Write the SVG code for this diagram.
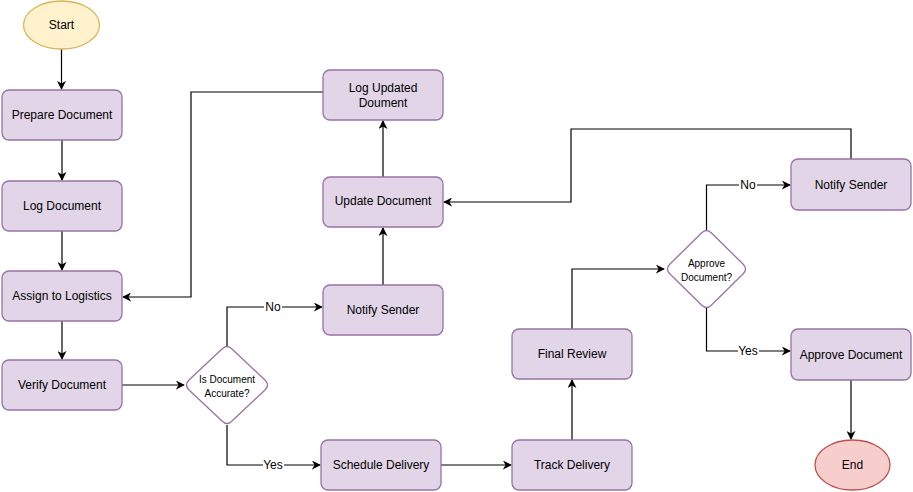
<svg xmlns="http://www.w3.org/2000/svg" width="913" height="492" viewBox="0 0 913 492">
<defs>
<marker id="arr" viewBox="0 0 10 10" refX="9" refY="5" markerWidth="9" markerHeight="9" markerUnits="userSpaceOnUse" orient="auto"><path d="M0,0 L10,5 L0,10 L3,5 Z" fill="#000"/></marker>
<style>
.box{fill:#e1d5e7;stroke:#9673a6;stroke-width:1.3}
.dia{fill:#fff;stroke:#9673a6;stroke-width:1.3}
.t{font-family:"Liberation Sans",Arial,sans-serif;font-size:12px;fill:#000;text-anchor:middle;dominant-baseline:central}
.s{font-size:10px}
.c{fill:none;stroke:#000;stroke-width:1.2;marker-end:url(#arr)}
.lb{fill:#fff}
</style>
</defs>
<rect width="913" height="492" fill="#fff"/>
<g id="connectors">
<path class="c" d="M61.5,49 L61.5,89"/>
<path class="c" d="M62,140 L62,180"/>
<path class="c" d="M62,231 L62,270"/>
<path class="c" d="M62,321 L62,359"/>
<path class="c" d="M122,385 L184,385"/>
<path class="c" d="M227,346 L227,307 L322,307"/>
<path class="c" d="M227,425 L227,465 L320,465"/>
<path class="c" d="M383,285 L383,228"/>
<path class="c" d="M383,177 L383,121"/>
<path class="c" d="M323,92 L191,92 L191,297 L123,297"/>
<path class="c" d="M441,465 L511,465"/>
<path class="c" d="M572,440 L572,380"/>
<path class="c" d="M572,329 L572,269 L664,269"/>
<path class="c" d="M706.5,230 L706.5,185 L790,185"/>
<path class="c" d="M706.5,308 L706.5,351 L790,351"/>
<path class="c" d="M851,159 L851,129 L571,129 L571,202 L444,202"/>
<path class="c" d="M851,380 L851,439"/>
<rect class="lb" x="264" y="300" width="18" height="14"/>
<text class="t" x="273" y="307">No</text>
<rect class="lb" x="263" y="458" width="21" height="14"/>
<text class="t" x="273" y="465">Yes</text>
<rect class="lb" x="739" y="178" width="18" height="14"/>
<text class="t" x="748" y="185">No</text>
<rect class="lb" x="738" y="344" width="21" height="14"/>
<text class="t" x="748" y="351">Yes</text>
</g>
<g id="start"><ellipse cx="61.5" cy="25" rx="38" ry="24" fill="#fff2cc" stroke="#d6b656" stroke-width="1.3"/><text class="t" x="61.5" y="25">Start</text></g>
<g id="prepare"><rect class="box" x="2" y="90" width="120" height="50" rx="7"/><text class="t" x="62" y="115">Prepare Document</text></g>
<g id="log"><rect class="box" x="2" y="181" width="120" height="50" rx="7"/><text class="t" x="62" y="206">Log Document</text></g>
<g id="assign"><rect class="box" x="2" y="271" width="120" height="50" rx="7"/><text class="t" x="62" y="296">Assign to Logistics</text></g>
<g id="verify"><rect class="box" x="2" y="360" width="120" height="50" rx="7"/><text class="t" x="62" y="385">Verify Document</text></g>
<g id="d1"><path class="dia" d="M222,349 Q227,344 232,349 L265,380 Q270,385 265,390 L232,421 Q227,426 222,421 L189,390 Q184,385 189,380 Z"/><text class="t s" x="227" y="379">Is Document</text><text class="t s" x="227" y="393">Accurate?</text></g>
<g id="notify1"><rect class="box" x="323" y="285" width="120" height="50" rx="7"/><text class="t" x="383" y="310">Notify Sender</text></g>
<g id="update"><rect class="box" x="323" y="177" width="120" height="50" rx="7"/><text class="t" x="383" y="201">Update Document</text></g>
<g id="logupd"><rect class="box" x="323" y="70" width="120" height="50" rx="7"/><text class="t" x="383" y="88">Log Updated</text><text class="t" x="383" y="103">Doument</text></g>
<g id="schedule"><rect class="box" x="321" y="440" width="120" height="50" rx="7"/><text class="t" x="381" y="465">Schedule Delivery</text></g>
<g id="track"><rect class="box" x="512" y="440" width="120" height="50" rx="7"/><text class="t" x="572" y="465">Track Delivery</text></g>
<g id="final"><rect class="box" x="512" y="329" width="120" height="50" rx="7"/><text class="t" x="572" y="354">Final Review</text></g>
<g id="d2"><path class="dia" d="M701.5,233 Q706.5,228 711.5,233 L743,264 Q748,269 743,274 L711.5,305 Q706.5,310 701.5,305 L670,274 Q665,269 670,264 Z"/><text class="t s" x="706.5" y="263">Approve</text><text class="t s" x="706.5" y="277">Document?</text></g>
<g id="notify2"><rect class="box" x="791" y="159" width="120" height="51" rx="7"/><text class="t" x="851" y="185">Notify Sender</text></g>
<g id="approve"><rect class="box" x="791" y="329" width="120" height="51" rx="7"/><text class="t" x="851" y="355">Approve Document</text></g>
<g id="end"><ellipse cx="852.5" cy="465" rx="37.5" ry="25" fill="#f8cecc" stroke="#b85450" stroke-width="1.3"/><text class="t" x="852.5" y="465">End</text></g>
</svg>
